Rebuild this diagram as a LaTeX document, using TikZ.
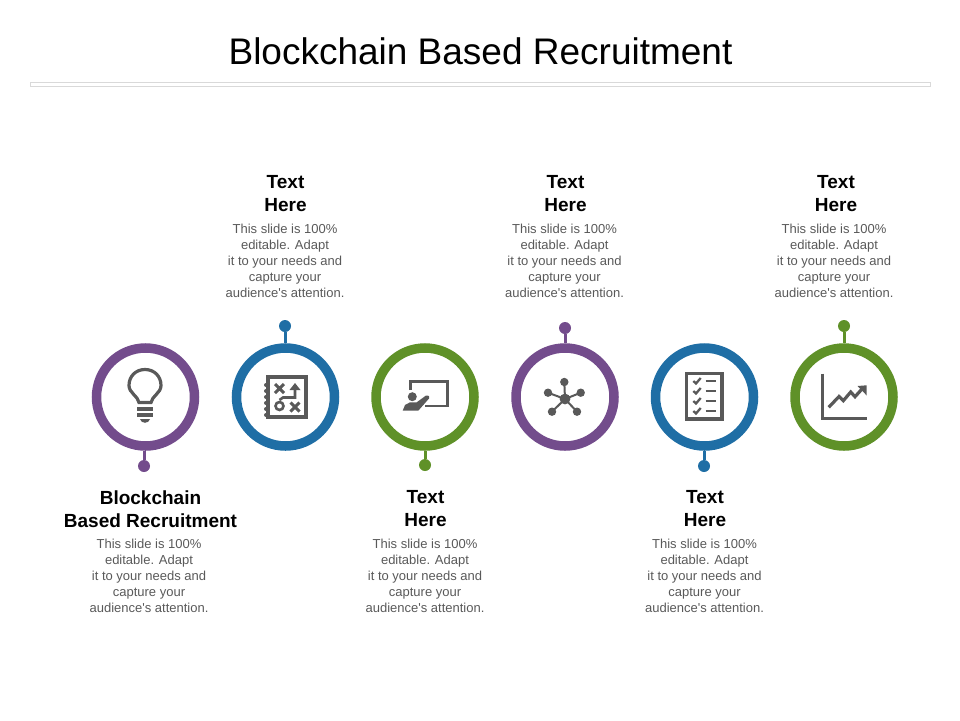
\documentclass[tikz,border=0pt]{standalone}
\usepackage{fontspec}
\setmainfont{Liberation Sans}[Ligatures=TeXOff]
\usetikzlibrary{shapes,arrows}
\definecolor{ringpurple}{RGB}{115,76,140}
\definecolor{ringblue}{RGB}{31,110,165}
\definecolor{ringgreen}{RGB}{95,145,40}
\definecolor{icongray}{RGB}{89,89,89}
\definecolor{copygray}{RGB}{89,89,89}
\tikzset{
  ring/.style={circle,draw=#1,line width=9.5pt,minimum size=98pt,inner sep=0pt},
  pin/.style={circle,fill=#1,minimum size=12pt,inner sep=0pt},
  stem/.style={draw=#1,line width=3pt},
  heading/.style={align=center,inner sep=0pt,font=\fontsize{19}{23}\selectfont\bfseries},
  copytext/.style={align=center,inner sep=0pt,text=copygray,font=\fontsize{13}{16}\selectfont},
  iconline/.style={draw=icongray,line width=#1,fill=none},
  iconfill/.style={fill=icongray,draw=none}
}
\newcommand{\slidecopy}{This slide is 100\%\\ editable. Adapt\\ it to your needs and\\ capture your\\ audience's attention.}
\begin{document}
\begin{tikzpicture}[x=1pt,y=-1pt]
      \useasboundingbox (0,0) rectangle (960,720);
      \node[font=\fontsize{37}{40}\selectfont,inner sep=0pt] at (480.5,51) (title) {Blockchain Based Recruitment};
      \node[draw={rgb,255:red,217;green,217;blue,217},line width=1pt,minimum width=900pt,minimum height=4pt,inner sep=0pt] at (480,84) (rule) {};

      \node[ring=ringpurple] at (145.5,397) (ring1) {};
      \node[ring=ringblue] at (285.5,397) (ring2) {};
      \node[ring=ringgreen] at (425,397) (ring3) {};
      \node[ring=ringpurple] at (565,397) (ring4) {};
      \node[ring=ringblue] at (704.5,397) (ring5) {};
      \node[ring=ringgreen] at (844,397) (ring6) {};

      \node[pin=ringpurple] at (144,466) (pin1) {};
      \node[pin=ringblue] at (285,326) (pin2) {};
      \node[pin=ringgreen] at (425,465) (pin3) {};
      \node[pin=ringpurple] at (565,328) (pin4) {};
      \node[pin=ringblue] at (704,466) (pin5) {};
      \node[pin=ringgreen] at (844,326) (pin6) {};

      \draw[stem=ringpurple] (ring1.south -| pin1) -- (pin1);
      \draw[stem=ringblue] (ring2.north -| pin2) -- (pin2);
      \draw[stem=ringgreen] (ring3.south -| pin3) -- (pin3);
      \draw[stem=ringpurple] (ring4.north -| pin4) -- (pin4);
      \draw[stem=ringblue] (ring5.south -| pin5) -- (pin5);
      \draw[stem=ringgreen] (ring6.north -| pin6) -- (pin6);

      \node[heading] at (150.5,509) (head1) {Blockchain\\ Based Recruitment};
      \node[heading] at (285.5,194) (head2) {Text\\ Here};
      \node[heading] at (425.5,509) (head3) {Text\\ Here};
      \node[heading] at (565.5,194) (head4) {Text\\ Here};
      \node[heading] at (705,509) (head5) {Text\\ Here};
      \node[heading] at (836,194) (head6) {Text\\ Here};

      \node[copytext] at (149,575.5) (copy1) {\slidecopy};
      \node[copytext] at (285,260.5) (copy2) {\slidecopy};
      \node[copytext] at (425,575.5) (copy3) {\slidecopy};
      \node[copytext] at (564.5,260.5) (copy4) {\slidecopy};
      \node[copytext] at (704.5,575.5) (copy5) {\slidecopy};
      \node[copytext] at (834,260.5) (copy6) {\slidecopy};

      % bulb
      \draw[iconline=3.2pt] (139,402.5) -- (151,402.5) .. controls (152,396) and (161,393) .. (161,385.5)
        .. controls (161,376) and (154,369.5) .. (145,369.5) .. controls (136,369.5) and (129,376) .. (129,385.5)
        .. controls (129,393) and (138,396) .. (139,402.5) -- cycle;
      \draw[iconline=3.4pt] (137,409) -- (153,409);
      \draw[iconline=3.4pt] (137,415) -- (153,415);
      \fill[iconfill] (140,419) -- (150,419) .. controls (149,424) and (141,424) .. (140,419) -- cycle;

      % notebook
      \draw[iconline=3.6pt] (268,377) rectangle (306,417);
      \foreach \dy in {385,391,397,403,409,415} \fill[iconfill] (266,\dy) circle (2pt);
      \draw[iconline=3pt] (275,384) -- (284,393) (284,384) -- (275,393);
      \draw[iconline=3pt] (290.5,402.5) -- (299.5,411.5) (299.5,402.5) -- (290.5,411.5);
      \draw[iconline=2.6pt] (279.5,406) circle (4pt);
      \draw[iconline=2.6pt] (279.5,400) -- (283,397.5) -- (295,397.5) -- (295,386);
      \fill[iconfill] (295,383) -- (300.5,390) -- (289.5,390) -- cycle;

      % presentation
      \draw[iconline=2.8pt] (410.7,390) -- (410.7,381.7) -- (447.3,381.7) -- (447.3,406) -- (425,406);
      \fill[iconfill] (412.3,396.7) circle (4.5pt);
      \fill[iconfill] (402.7,410.7) -- (405,405) -- (410,402.3) -- (416.7,402.3) -- (426,395.5)
        .. controls (429,395) and (430,397) .. (429,398.5) -- (418.3,410.7) -- cycle;

      % network
      \draw[iconline=2pt] (564.3,382) -- (565,399) -- (548,392.7) (580.7,392.7) -- (565,399) -- (552,411.7) (565,399) -- (577,411.7);
      \fill[iconfill] (565,399) circle (5.4pt);
      \fill[iconfill] (564.3,382) circle (4.2pt);
      \fill[iconfill] (548,392.7) circle (4.2pt);
      \fill[iconfill] (580.7,392.7) circle (4.2pt);
      \fill[iconfill] (552,411.7) circle (4.2pt);
      \fill[iconfill] (577,411.7) circle (4.2pt);

      % checklist
      \draw[iconline=3.8pt] (686.5,373.5) rectangle (722,419);
      \foreach \rowy in {381,391,401,411} {
        \draw[iconline=2.3pt] (693.3,\rowy) -- (696,\rowy+2.5) -- (700.7,\rowy-3);
        \draw[iconline=2pt] (705.7,\rowy) -- (716,\rowy);
      }

      % chart
      \draw[iconline=3.6pt] (822.5,373.5) -- (822.5,418.3) -- (866.7,418.3);
      \draw[iconline=3.2pt] (828.7,407.3) -- (839,396.5) -- (843.3,400.7) -- (850.7,392) -- (855,396.7) -- (862,389);
      \fill[iconfill] (866.7,385.3) -- (857.5,386) -- (866.7,395.5) -- cycle;
   \end{tikzpicture}
\end{document}
